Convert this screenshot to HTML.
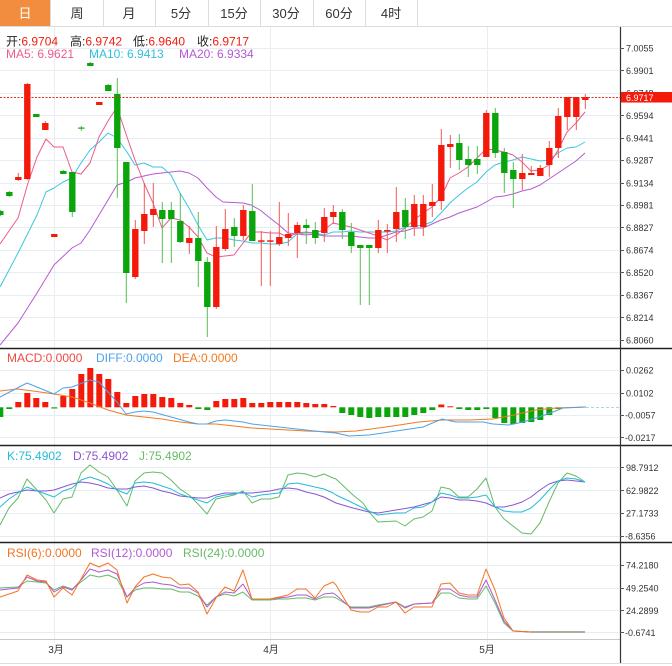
<!DOCTYPE html>
<html><head><meta charset="utf-8"><style>
html,body{margin:0;padding:0;background:#fff;}
svg{display:block;font-family:"Liberation Sans","Noto Sans CJK SC",sans-serif;}
</style></head><body>
<svg width="672" height="666" viewBox="0 0 672 666" xmlns="http://www.w3.org/2000/svg">
<rect width="672" height="666" fill="#fff"/>
<!-- tabs -->
<rect x="0" y="0" width="50" height="26" fill="#f28c3e"/>
<g stroke="#dcdcdc" stroke-width="1">
<line x1="50.5" y1="0" x2="50.5" y2="26"/><line x1="103.5" y1="0" x2="103.5" y2="26"/>
<line x1="155.5" y1="0" x2="155.5" y2="26"/><line x1="208.5" y1="0" x2="208.5" y2="26"/>
<line x1="260.5" y1="0" x2="260.5" y2="26"/><line x1="313.5" y1="0" x2="313.5" y2="26"/>
<line x1="365.5" y1="0" x2="365.5" y2="26"/><line x1="417.5" y1="0" x2="417.5" y2="26"/>
<line x1="0" y1="26.5" x2="672" y2="26.5"/>
</g>
<g font-size="13" text-anchor="middle" fill="#333">
<text x="25" y="18" fill="#fff">日</text><text x="77" y="18">周</text><text x="129" y="18">月</text>
<text x="181" y="18">5分</text><text x="234" y="18">15分</text><text x="286" y="18">30分</text>
<text x="339" y="18">60分</text><text x="391" y="18">4时</text>
</g>

<!-- grids -->
<g stroke="#e6eef3" stroke-width="1">
<line x1="0" y1="48.5" x2="620" y2="48.5"/><line x1="0" y1="70.5" x2="620" y2="70.5"/>
<line x1="0" y1="93.5" x2="620" y2="93.5"/><line x1="0" y1="115.5" x2="620" y2="115.5"/>
<line x1="0" y1="138.5" x2="620" y2="138.5"/><line x1="0" y1="160.5" x2="620" y2="160.5"/>
<line x1="0" y1="183.5" x2="620" y2="183.5"/><line x1="0" y1="205.5" x2="620" y2="205.5"/>
<line x1="0" y1="227.5" x2="620" y2="227.5"/><line x1="0" y1="250.5" x2="620" y2="250.5"/>
<line x1="0" y1="272.5" x2="620" y2="272.5"/><line x1="0" y1="295.5" x2="620" y2="295.5"/>
<line x1="0" y1="317.5" x2="620" y2="317.5"/><line x1="0" y1="340.5" x2="620" y2="340.5"/>
<line x1="0" y1="370.5" x2="620" y2="370.5"/><line x1="0" y1="393.5" x2="620" y2="393.5"/>
<line x1="0" y1="415.5" x2="620" y2="415.5"/><line x1="0" y1="437.5" x2="620" y2="437.5"/>
<line x1="0" y1="467.5" x2="620" y2="467.5"/><line x1="0" y1="490.5" x2="620" y2="490.5"/>
<line x1="0" y1="513.5" x2="620" y2="513.5"/><line x1="0" y1="536.5" x2="620" y2="536.5"/>
<line x1="0" y1="565.5" x2="620" y2="565.5"/><line x1="0" y1="588.5" x2="620" y2="588.5"/>
<line x1="0" y1="610.5" x2="620" y2="610.5"/><line x1="0" y1="632.5" x2="620" y2="632.5"/>
<line x1="54.5" y1="27" x2="54.5" y2="643"/><line x1="270.5" y1="27" x2="270.5" y2="643"/>
<line x1="487.5" y1="27" x2="487.5" y2="643"/>
</g>

<!-- MA lines -->
<g fill="none" stroke-width="1" stroke-linejoin="round">
<polyline stroke="#b85ad0" points="0,345 18,323 37,293 54,265 72,248 81,243 90,230 99,215 108,200 117,185 127,182 135,178 144,176 153,174 162,173 171,172 180,171 189,173 198,178 207,188 216,197 223,202 243,203 251,205 260,210 270,218 279,225 288,233 297,234 306,235 315,234 324,236 333,236 342,236 351,236 360,237 369,238 378,238 387,235 396,232 405,231 414,228 423,228 432,224 441,220 450,217 459,213 468,210 477,207 486,202 495,197 504,196 513,194 522,191 531,189 540,185 549,179 558,173 567,167 576,161 585,153"/>
<polyline stroke="#3cc6df" points="0,287 18,253 37,215 46,192 54,188 63,182 72,178 81,163 90,150 99,142 108,133 117,138 127,152 135,165 144,163 153,167 162,167 171,175 180,193 189,208 198,225 207,240 216,238 225,238 234,240 243,241 252,243 261,243 270,244 279,244 288,242 297,234 306,233 315,233 324,235 333,232 342,232 351,231 360,232 369,232 378,232 387,232 396,231 405,227 414,226 423,225 432,222 441,213 450,203 459,195 468,188 477,182 486,172 495,165 504,162 513,160 522,157 531,159 540,161 549,160 558,153 567,148 576,147 585,142"/>
<polyline stroke="#ee5a8e" points="0,244 18,218 28,183 37,157 46,139 54,147 63,147 72,172 81,174 90,163 99,137 108,121 117,107 127,137 135,160 144,183 153,203 162,228 171,218 180,220 189,227 198,237 207,253 216,257 225,256 234,255 243,243 252,232 261,232 270,233 279,233 288,237 297,233 306,232 315,233 324,230 333,223 342,225 351,227 360,230 369,233 378,236 387,240 396,235 405,228 414,220 423,213 432,207 441,197 450,178 459,173 468,167 477,158 486,149 495,150 504,152 513,155 522,162 531,171 540,170 549,165 558,150 567,132 576,123 585,112"/>
</g>

<!-- candles -->
<g id="candles"></g>

<!-- last price line -->
<line x1="0" y1="97.5" x2="620" y2="97.5" stroke="#e52a1e" stroke-width="1" stroke-dasharray="2,1.5"/>

<!-- MACD bars -->
<g id="macd"></g>
<line x1="586" y1="407.5" x2="620" y2="407.5" stroke="#a8d6f0" stroke-width="1" stroke-dasharray="3,2"/>
<g fill="none" stroke-width="1" stroke-linejoin="round">
<polyline stroke="#f07a22" points="0,391 17,389 33,391 54,394 72,397 90,403 108,410 126,415 144,417 162,419 180,422 198,424 216,424 234,426 252,428 270,429 288,430 306,431 336,432 356,431 386,427 419,422 442,420 469,420 493,419 509,416 536,410 556,408 586,407"/>
<polyline stroke="#4ea2e8" points="0,397 27,383 54,394 63,388 72,387 90,380 99,382 117,402 126,414 135,412 144,411 153,412 171,417 189,422 198,424 207,424 216,421 225,420 243,422 252,424 270,426 288,428 306,430 324,432 336,433 349,436 369,435 403,430 423,427 442,419 456,422 483,422 493,424 509,425 523,422 536,418 553,412 563,408 586,407"/>
</g>

<!-- KDJ -->
<g fill="none" stroke-width="1" stroke-linejoin="round">
<polyline stroke="#66bb66" points="0,525 9,508 18,498 27,479 37,490 46,500 54,513 63,499 72,497 81,473 90,465 99,472 108,477 117,490 127,506 135,481 144,473 153,472 162,473 171,480 180,489 189,495 198,504 207,514 216,499 225,497 234,495 243,491 252,503 261,499 270,499 279,497 288,475 297,473 306,474 315,477 324,474 333,478 336,479 353,495 363,503 369,512 378,522 396,521 405,526 414,519 423,517 432,511 441,487 450,489 459,497 468,497 477,489 486,478 495,507 504,519 513,526 522,533 531,534 540,523 549,502 558,483 567,473 576,476 585,482"/>
<polyline stroke="#8a55d2" points="0,498 9,494 18,492 27,490 37,491 46,491 54,490 63,487 72,484 81,482 90,483 99,485 108,488 117,489 127,489 135,487 144,486 153,488 162,491 171,493 180,496 189,497 198,498 207,498 216,495 225,493 234,493 243,493 252,493 261,492 270,491 279,489 288,488 297,489 306,492 315,494 324,497 336,503 353,508 369,512 378,513 396,510 414,507 432,502 441,497 450,498 459,500 468,500 477,501 486,503 495,507 504,507 513,505 522,502 531,497 540,490 549,484 558,481 567,480 576,481 585,482"/>
<polyline stroke="#22bcd8" points="0,507 9,499 18,493 27,487 37,491 46,494 54,497 63,491 72,488 81,480 90,477 99,480 108,484 117,490 127,494 135,483 144,482 153,483 162,486 171,489 180,494 189,497 198,500 207,503 216,497 225,495 234,494 243,492 252,497 261,495 270,494 279,493 288,484 297,483 306,485 315,487 324,489 333,493 336,495 353,503 369,511 378,515 396,513 405,513 414,508 423,507 432,502 441,493 450,495 459,498 468,498 477,497 486,495 495,507 504,511 513,512 522,512 531,508 540,500 549,490 558,481 567,478 576,479 585,482"/>
</g>

<!-- RSI -->
<g fill="none" stroke-width="1" stroke-linejoin="round">
<polyline stroke="#66bb66" points="0,588 18,587 27,581 37,582 46,583 54,590 63,586 72,589 81,582 90,575 99,577 108,575 117,579 127,597 135,590 144,588 153,588 162,589 171,589 180,592 189,592 198,596 207,605 216,597 225,594 234,596 243,592 252,600 261,600 270,600 279,599 288,599 297,598 306,598 315,600 324,597 333,597 336,598 351,607 369,607 378,605 396,602 405,607 414,604 432,603 441,593 450,593 459,598 468,599 477,599 486,586 495,603 504,623 513,631 531,632"/>
<polyline stroke="#b458d2" points="0,590 18,588 27,577 37,581 46,582 54,592 63,587 72,590 81,580 90,569 99,572 108,570 117,574 127,597 135,588 144,583 153,582 162,584 171,585 180,588 189,588 198,593 207,607 216,597 225,592 234,593 243,584 252,599 261,599 270,599 279,598 288,597 297,595 306,595 315,599 324,594 333,593 336,595 351,608 369,608 378,606 396,602 405,608 414,604 432,603 441,589 450,589 459,595 468,597 477,597 486,580 495,600 504,621 513,631 531,632"/>
<polyline stroke="#f47422" points="0,597 18,591 27,575 37,580 46,581 54,597 63,588 72,595 81,579 90,563 99,567 108,563 117,570 127,603 135,587 144,577 153,574 162,577 171,578 180,585 189,584 198,592 207,614 216,598 225,587 234,591 243,570 252,599 261,599 270,599 279,597 288,595 297,589 306,589 315,598 324,586 333,582 336,585 351,610 360,612 369,612 378,607 387,607 396,602 405,613 414,607 423,607 432,607 441,584 450,583 459,593 468,595 477,595 486,569 495,590 504,618 513,631 531,632"/>
<line x1="531" y1="632" x2="585" y2="632" stroke="#aeac9c" stroke-width="2"/>
</g>

<!-- separators & axis -->
<g>
<line x1="0" y1="348.5" x2="672" y2="348.5" stroke="#222" stroke-width="1.4"/>
<line x1="0" y1="445.5" x2="672" y2="445.5" stroke="#222" stroke-width="1.4"/>
<line x1="0" y1="542.5" x2="672" y2="542.5" stroke="#222" stroke-width="1.4"/>
<line x1="0" y1="639.5" x2="620" y2="639.5" stroke="#c8c8c8" stroke-width="1"/>
<line x1="0" y1="663.5" x2="672" y2="663.5" stroke="#dedede" stroke-width="1"/>
<line x1="620.5" y1="27" x2="620.5" y2="663" stroke="#333" stroke-width="1.2"/>
</g>

<!-- axis tick marks -->
<g stroke="#555" stroke-width="1">
<line x1="620" y1="48.5" x2="624" y2="48.5"/><line x1="620" y1="70.5" x2="624" y2="70.5"/>
<line x1="620" y1="115.5" x2="624" y2="115.5"/><line x1="620" y1="138.5" x2="624" y2="138.5"/>
<line x1="620" y1="160.5" x2="624" y2="160.5"/><line x1="620" y1="183.5" x2="624" y2="183.5"/>
<line x1="620" y1="205.5" x2="624" y2="205.5"/><line x1="620" y1="227.5" x2="624" y2="227.5"/>
<line x1="620" y1="250.5" x2="624" y2="250.5"/><line x1="620" y1="272.5" x2="624" y2="272.5"/>
<line x1="620" y1="295.5" x2="624" y2="295.5"/><line x1="620" y1="317.5" x2="624" y2="317.5"/>
<line x1="620" y1="340.5" x2="624" y2="340.5"/>
<line x1="620" y1="370.5" x2="624" y2="370.5"/><line x1="620" y1="393.5" x2="624" y2="393.5"/>
<line x1="620" y1="415.5" x2="624" y2="415.5"/><line x1="620" y1="437.5" x2="624" y2="437.5"/>
<line x1="620" y1="467.5" x2="624" y2="467.5"/><line x1="620" y1="490.5" x2="624" y2="490.5"/>
<line x1="620" y1="513.5" x2="624" y2="513.5"/><line x1="620" y1="536.5" x2="624" y2="536.5"/>
<line x1="620" y1="565.5" x2="624" y2="565.5"/><line x1="620" y1="588.5" x2="624" y2="588.5"/>
<line x1="620" y1="610.5" x2="624" y2="610.5"/><line x1="620" y1="632.5" x2="624" y2="632.5"/>
</g>
<g font-size="9" fill="#333">
<text x="626" y="51.5">7.0055</text><text x="626" y="74">6.9901</text><text x="626" y="96.5">6.9748</text>
<text x="626" y="119">6.9594</text><text x="626" y="141.3">6.9441</text><text x="626" y="163.6">6.9287</text>
<text x="626" y="186.3">6.9134</text><text x="626" y="208.3">6.8981</text><text x="626" y="231">6.8827</text>
<text x="626" y="253.6">6.8674</text><text x="626" y="276">6.8520</text><text x="626" y="298.3">6.8367</text>
<text x="626" y="321">6.8214</text><text x="626" y="343.3">6.8060</text>
<text x="626" y="373.3">0.0262</text><text x="626" y="396.6">0.0102</text><text x="625" y="418.6">-0.0057</text><text x="625" y="441">-0.0217</text>
<text x="626" y="471">98.7912</text><text x="626" y="494">62.9822</text><text x="626" y="516.6">27.1733</text><text x="625" y="539.3">-8.6356</text>
<text x="626" y="568.3">74.2180</text><text x="626" y="591.3">49.2540</text><text x="626" y="614">24.2899</text><text x="625" y="636">-0.6741</text>
</g>
<rect x="621" y="92" width="51" height="10.5" fill="#f41a0b"/>
<text x="626" y="100.8" font-size="9" fill="#fff">6.9717</text>

<!-- x labels -->
<g font-size="10" fill="#333" text-anchor="middle">
<text x="56" y="653">3月</text><text x="271" y="653">4月</text><text x="487" y="653">5月</text>
</g>

<!-- legends -->
<g font-size="12">
<text x="6" y="45.5"><tspan fill="#222">开:</tspan><tspan fill="#f31c0c">6.9704</tspan></text>
<text x="70" y="45.5"><tspan fill="#222">高:</tspan><tspan fill="#f31c0c">6.9742</tspan></text>
<text x="133" y="45.5"><tspan fill="#222">低:</tspan><tspan fill="#f31c0c">6.9640</tspan></text>
<text x="197" y="45.5"><tspan fill="#222">收:</tspan><tspan fill="#f31c0c">6.9717</tspan></text>
<text x="6" y="58" fill="#ee5a8e">MA5: 6.9621</text>
<text x="89" y="58" fill="#2fc0dc">MA10: 6.9413</text>
<text x="179" y="58" fill="#b458d2">MA20: 6.9334</text>
<text x="7" y="362" fill="#ee4a40">MACD:0.0000</text>
<text x="96" y="362" fill="#4ea2e8">DIFF:0.0000</text>
<text x="173" y="362" fill="#f07a22">DEA:0.0000</text>
<text x="7" y="460" fill="#22bcd8">K:75.4902</text>
<text x="73" y="460" fill="#8a55d2">D:75.4902</text>
<text x="139" y="460" fill="#66bb66">J:75.4902</text>
<text x="7" y="557" fill="#f47422">RSI(6):0.0000</text>
<text x="91" y="557" fill="#b458d2">RSI(12):0.0000</text>
<text x="183" y="557" fill="#66bb66">RSI(24):0.0000</text>
</g>
</svg>
<script>
(function(){
var NS="http://www.w3.org/2000/svg";
var C=[
['g',211,215,210,216],['g',192,196,191,197],['r',177,180,173,181],['r',84,179,83,180],
['g',114,117,114,117],['r',123,130,121,130],['r',234,237,234,237],['g',171,174,170,174],
['g',172,212,172,217],['g',127.5,128.7,126,131],['g',63,66,62,66],['r',102,105,102,105],
['g',85,91,84,91],['g',94,148,78,198],['g',162,273,162,303],['r',229,277,220,279],
['r',214,231,183,244],['r',209,215,183,227],['g',210,219,202,263],['g',210,219,202,263],
['g',221,242,193,243],['r',238,243,226,254],['g',238,261,212,287],['g',262,307,257,337],
['r',247,307,226,309],['r',229,249,209,251],['g',227,236,218,247],['r',210,236,205,240],
['g',211,241,184,241],['r',240.3,241.8,231,286],['r',240.3,241.8,231,286],['r',237,244,202,246],
['r',234,238,213,246],['r',225,233,222,258],['g',225,228,219,244],['g',230,238,222,244],
['r',217,233,208,242],['r',212,217,205,224],['g',212,230,209,239],['g',232,246,223,253],
['g',245,248,245,305],['g',245,248,245,305],['r',230,248,220,253],['r',230,231.5,224,253],
['r',212,229,187,242],['g',210,227,198,239],['r',204,227,195,236],['r',204,227,195,236],
['r',202,206,184,217],['r',145,201,129,210],['r',144,147,135,168],['g',143,160,134,170],
['g',159,165,146,177],['g',159,165,146,174],['r',113,157,110,157],['g',113,153,108,158],
['g',152,173,148,193],['g',170,179,162,208],['r',173,179,154,190],['r',173,175,166,175],
['r',168,176,165,176],['r',148,165,141,177],['r',116,148,108,158],['r',97,117,97,130],
['r',97,117,97,130],['r',97,100,94,109]];
var g=document.getElementById('candles');
for(var i=0;i<C.length;i++){
 var c=C[i],x=0.3+9*i,red=c[0]=='r';
 var w=document.createElementNS(NS,'line');
 w.setAttribute('x1',x);w.setAttribute('x2',x);w.setAttribute('y1',c[3]);w.setAttribute('y2',c[4]);
 w.setAttribute('stroke',red?'#f25a50':'#55bf55');w.setAttribute('stroke-width','1');g.appendChild(w);
 var r=document.createElementNS(NS,'rect');
 var h=Math.max(c[2]-c[1],1.2);
 r.setAttribute('x',x-3.2);r.setAttribute('y',c[1]);r.setAttribute('width',6.4);r.setAttribute('height',h);
 r.setAttribute('fill',red?'#f41a0b':'#0aa50a');g.appendChild(r);
}
var M=[['g',417],['g',409],['r',402],['r',393],['r',398],['r',402],['g',408.5],['r',396],['r',389],['r',374],
['r',368],['r',374],['r',379],['r',392],['r',403],['r',396],['r',394],['r',394],['r',397],['r',398],
['r',403],['r',405],['g',409],['g',410],['r',401],['r',399],['r',399],['r',398],['r',403],['r',403],
['r',402],['r',402],['r',402],['r',402],['r',403],['r',404],['r',404],['r',406],['g',413],['g',415],
['g',417],['g',418],['g',417],['g',417],['g',417],['g',417],['g',415],['g',413],['g',410],['r',404.5],
['r',406.3],['g',409],['g',410],['g',410],['g',409],['g',418],['g',423],['g',424],['g',423],['g',422],
['g',420],['g',415],['g',409]];
var mg=document.getElementById('macd'),z=407.3;
for(var j=0;j<M.length;j++){
 var m=M[j],xx=0.3+9*j,red2=m[0]=='r';
 var y1=Math.min(z,m[1]),y2=Math.max(z,m[1]);
 var rr=document.createElementNS(NS,'rect');
 rr.setAttribute('x',xx-3);rr.setAttribute('y',y1);rr.setAttribute('width',6);rr.setAttribute('height',Math.max(y2-y1,1));
 rr.setAttribute('fill',red2?'#f41a0b':'#0aa50a');mg.appendChild(rr);
}
})();
</script>
</body></html>
